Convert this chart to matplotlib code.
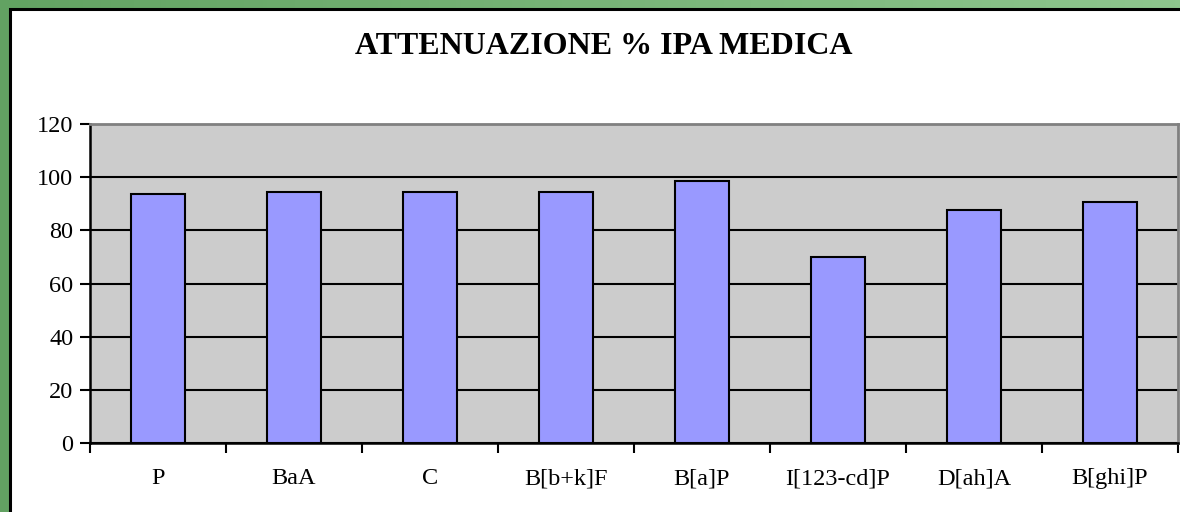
import numpy as np
import matplotlib
matplotlib.use("Agg")
import matplotlib.pyplot as plt
from matplotlib.patches import Rectangle
from matplotlib.colors import LinearSegmentedColormap

categories = ["P", "BaA", "C", "B[b+k]F", "B[a]P", "I[123-cd]P", "D[ah]A", "B[ghi]P"]
attenuazione = [93.8, 94.6, 94.6, 94.6, 98.5, 70.0, 87.6, 90.6]
y_ticks = [0, 20, 40, 60, 80, 100, 120]

W, H = 1180, 512
fig = plt.figure(figsize=(W / 100, H / 100), dpi=100)

# cornice verde sfumata dietro il pannello bianco
bg = fig.add_axes([0, 0, 1, 1], zorder=-10)
green = LinearSegmentedColormap.from_list("g", ["#62A262", "#8EC68E"])
bg.imshow(np.linspace(0, 1, 256)[None, :], cmap=green, aspect="auto",
          extent=[0, 1, 0, 1])
bg.set_axis_off()
bg.add_patch(Rectangle((9.5 / W, -0.1), 1.2, 1.1 - 8.5 / H,
                       transform=bg.transAxes, facecolor="white",
                       edgecolor="black", linewidth=2.2, zorder=5))

ax = fig.add_axes([90 / W, 1 - 443 / H, 1088 / W, 319 / H])
ax.set_facecolor("#CCCCCC")

x = np.arange(len(categories))
ax.bar(x, attenuazione, width=0.4, color="#9999FF", edgecolor="black",
       linewidth=1.5, zorder=3)

ax.set_xlim(-0.5, len(categories) - 0.5)
ax.set_ylim(0, 120)
ax.set_yticks(y_ticks)
ax.set_yticklabels([str(v) for v in y_ticks], family="Liberation Serif",
                   fontsize=17.5)
ax.yaxis.grid(True, color="black", linewidth=1.5, zorder=1)
ax.set_axisbelow(True)

# tick di categoria sui confini, etichette al centro
ax.set_xticks(np.arange(len(categories) + 1) - 0.5)
ax.set_xticklabels([])
ax.set_xticks(x, minor=True)
ax.set_xticklabels(categories, minor=True, family="Liberation Serif",
                   fontsize=17.5)
ax.tick_params(axis="x", which="minor", length=0, pad=18)
ax.tick_params(axis="x", which="major", length=7, width=1.5, direction="out")
ax.tick_params(axis="y", length=7, width=1.5, direction="out", pad=5)

for side in ("left", "bottom"):
    ax.spines[side].set_color("black")
    ax.spines[side].set_linewidth(1.8)
for side in ("top", "right"):
    ax.spines[side].set_color("#808080")
    ax.spines[side].set_linewidth(2)

fig.text(604 / W, 1 - 47 / H, "ATTENUAZIONE % IPA MEDICA",
         family="Liberation Serif", fontweight="bold", fontsize=23,
         ha="center", va="center")

fig.savefig("out.png", dpi=100)
